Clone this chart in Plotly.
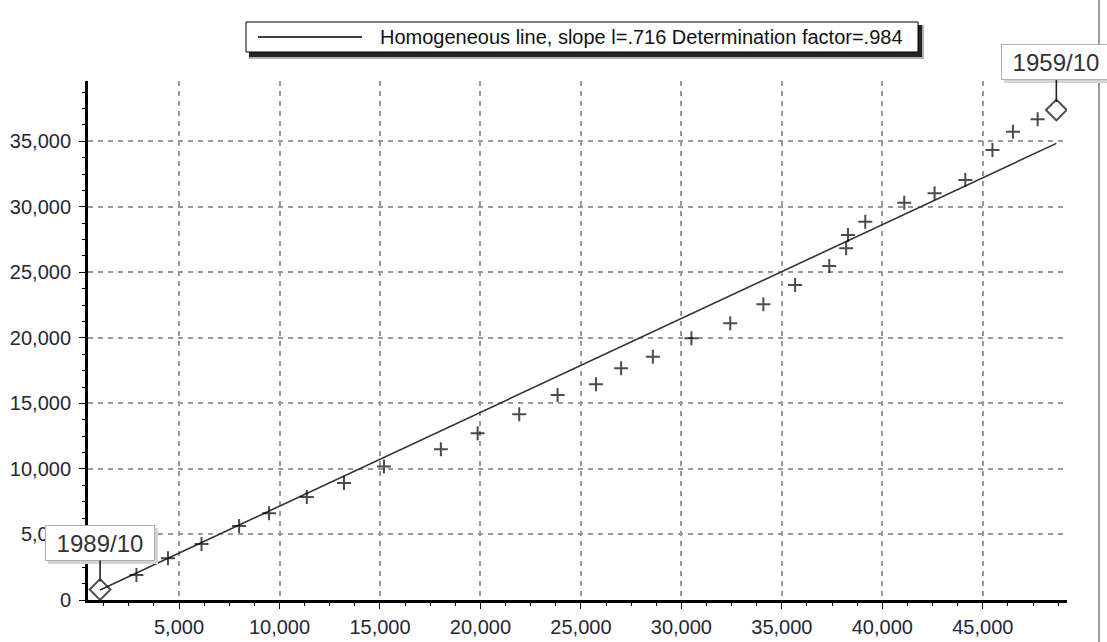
import plotly.graph_objects as go

# Double mass curve: cumulative series vs cumulative reference (1989/10 back to 1959/10)
cum_reference = [1070, 2880, 4450, 6120, 7990, 9480, 11360, 13210, 15200, 18030,
                 19860, 21930, 23840, 25750, 27000, 28580, 30500, 32430, 34080, 35660,
                 37360, 38200, 38290, 39150, 41090, 42600, 44130, 45480, 46500, 47730, 48660]
cum_station = [800, 1910, 3180, 4270, 5650, 6620, 7860, 8930, 10190, 11500,
               12720, 14170, 15640, 16460, 17680, 18560, 19970, 21110, 22560, 24030,
               25480, 26840, 27850, 28860, 30310, 31030, 32050, 34340, 35730, 36680, 37390]
period_start = "1989/10"
period_end = "1959/10"
slope = 0.716
determination = 0.984

x_ticks = [5000, 10000, 15000, 20000, 25000, 30000, 35000, 40000, 45000]
y_ticks = [0, 5000, 10000, 15000, 20000, 25000, 30000, 35000]

W, H = 1107, 642
M_L, M_R, M_T, M_B = 88, 40, 81, 42
PW, PH = W - M_L - M_R, H - M_T - M_B


def px(xp):
    return (xp - M_L) / PW


def py(yp):
    return (H - M_B - yp) / PH


FONT = "Liberation Sans, Arial, sans-serif"
TEXT = "#262636"

fig = go.Figure()

# homogeneous line through the origin with the fitted slope
line_x = [cum_reference[0], cum_reference[-1]]
line_y = [slope * v for v in line_x]
fig.add_trace(go.Scatter(x=line_x, y=line_y, mode="lines",
                         line=dict(color="#333333", width=1.6),
                         hoverinfo="skip", showlegend=False))

n = len(cum_reference)
symbols = ["diamond-open"] + ["cross-thin"] * (n - 2) + ["diamond-open"]
sizes = [16] + [10] * (n - 2) + [16]
fig.add_trace(go.Scatter(x=cum_reference, y=cum_station, mode="markers",
                         marker=dict(symbol=symbols, size=sizes, color="black",
                                     line=dict(color="black", width=2)),
                         showlegend=False))

axis_common = dict(showline=True, linecolor="black", zeroline=False, automargin=False,
                   showgrid=True, gridcolor="#9a9a9a", gridwidth=1.5, griddash="5px,5px",
                   ticks="outside", ticklen=6, tickwidth=1, tickcolor="black",
                   tickformat=",d", tickfont=dict(family=FONT, size=20, color=TEXT),
                   minor=dict(dtick=1250, ticks="outside", ticklen=3, tickcolor="black",
                              showgrid=False))

fig.update_xaxes(range=[470, 49190], tickvals=x_ticks, linewidth=2.5,
                 ticklabelstandoff=1, **axis_common)
fig.update_yaxes(range=[0, 39600], tickvals=y_ticks, linewidth=3,
                 ticklabelstandoff=4, **axis_common)

shapes = []
# frame edge on the right
shapes.append(dict(type="line", xref="paper", yref="paper", x0=px(1099), x1=px(1099),
                   y0=py(-5), y1=py(H + 5), line=dict(color="#9a9a9a", width=2)))
# legend box with drop shadow
lx0, lx1, ly0, ly1 = 246, 918, 22, 52
shapes.append(dict(type="rect", xref="paper", yref="paper", x0=px(lx0 + 3), x1=px(lx1 + 6),
                   y0=py(ly1 + 7), y1=py(ly0 + 3), fillcolor="rgba(0,0,0,0.30)", line_width=0))
shapes.append(dict(type="rect", xref="paper", yref="paper", x0=px(lx0 + 3), x1=px(lx1 + 4),
                   y0=py(ly1 + 5), y1=py(ly0 + 3), fillcolor="rgba(0,0,0,0.80)", line_width=0))
shapes.append(dict(type="rect", xref="paper", yref="paper", x0=px(lx0), x1=px(lx1),
                   y0=py(ly1), y1=py(ly0), fillcolor="white", line=dict(color="black", width=1)))
shapes.append(dict(type="line", xref="paper", yref="paper", x0=px(258), x1=px(362),
                   y0=py(37), y1=py(37), line=dict(color="black", width=1.3)))

annotations = [dict(xref="paper", yref="paper", x=px(378), y=py(37), xanchor="left",
                    yanchor="middle", showarrow=False,
                    text=f"Homogeneous line, slope l={slope:.3f}".replace("0.", ".")
                    + f" Determination factor={determination:.3f}".replace("0.", "."),
                    font=dict(family=FONT, size=20, color="#111111"))]

# period labels with soft shadow
for i, label, ay in [(0, period_start, -46.5), (n - 1, period_end, -47.5)]:
    common = dict(x=cum_reference[i], y=cum_station[i], xref="x", yref="y",
                  showarrow=True, arrowhead=0, ax=0, ay=ay, standoff=8,
                  borderwidth=1, borderpad=2, width=104, height=30)
    annotations.append(dict(**common, text=" ", xshift=3, yshift=-3, arrowwidth=1,
                            arrowcolor="rgba(0,0,0,0)", bgcolor="#d4d4d4",
                            bordercolor="#d4d4d4", font=dict(family=FONT, size=24)))
    annotations.append(dict(**common, text=label, arrowwidth=1.6, arrowcolor="#222222",
                            bgcolor="white", bordercolor="#b0b0b0",
                            font=dict(family=FONT, size=24, color="#333333")))

fig.update_layout(width=W, height=H, margin=dict(l=M_L, r=M_R, t=M_T, b=M_B),
                  plot_bgcolor="white", paper_bgcolor="white",
                  shapes=shapes, annotations=annotations, showlegend=False)

fig.write_html("out.html")
